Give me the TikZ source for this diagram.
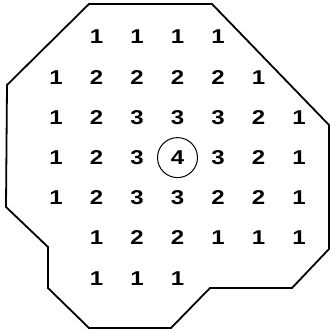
\documentclass[tikz,border=0pt]{standalone}
\usepackage{fontspec}
\setmainfont{Liberation Sans}
\begin{document}
\begin{tikzpicture}[x=1pt,y=-1pt,line width=1.8pt,
  val/.style={font=\fontsize{20}{20}\selectfont\bfseries,inner sep=0pt,xscale=1.2},
  ring/.style={line width=1pt}]
\useasboundingbox (0,0) rectangle (330,333);
% outline of the region
\draw[line join=miter] (89,4) -- (212,4) -- (329,125) -- (329,249) -- (292,288)
  -- (210,288) -- (171,328) -- (89,328) -- (48,288) -- (48,247) -- (6,207)
  -- (7,85) -- cycle;
% values, row by row
\foreach \r/\c/\list in {1/2/{1,1,1,1},2/1/{1,2,2,2,2,1},3/1/{1,2,3,3,3,2,1},
    4/1/{1,2,3,4,3,2,1},5/1/{1,2,3,3,2,2,1},6/2/{1,2,2,1,1,1},7/2/{1,1,1}}
  \foreach \v [count=\k from \c] in \list
    \node[val] (r\r c\k) at ({56+40.5*(\k-1)},{37+40.2*(\r-1)}) {\v};
\draw[ring] (r4c4.center) circle (20);
\end{tikzpicture}
\end{document}
